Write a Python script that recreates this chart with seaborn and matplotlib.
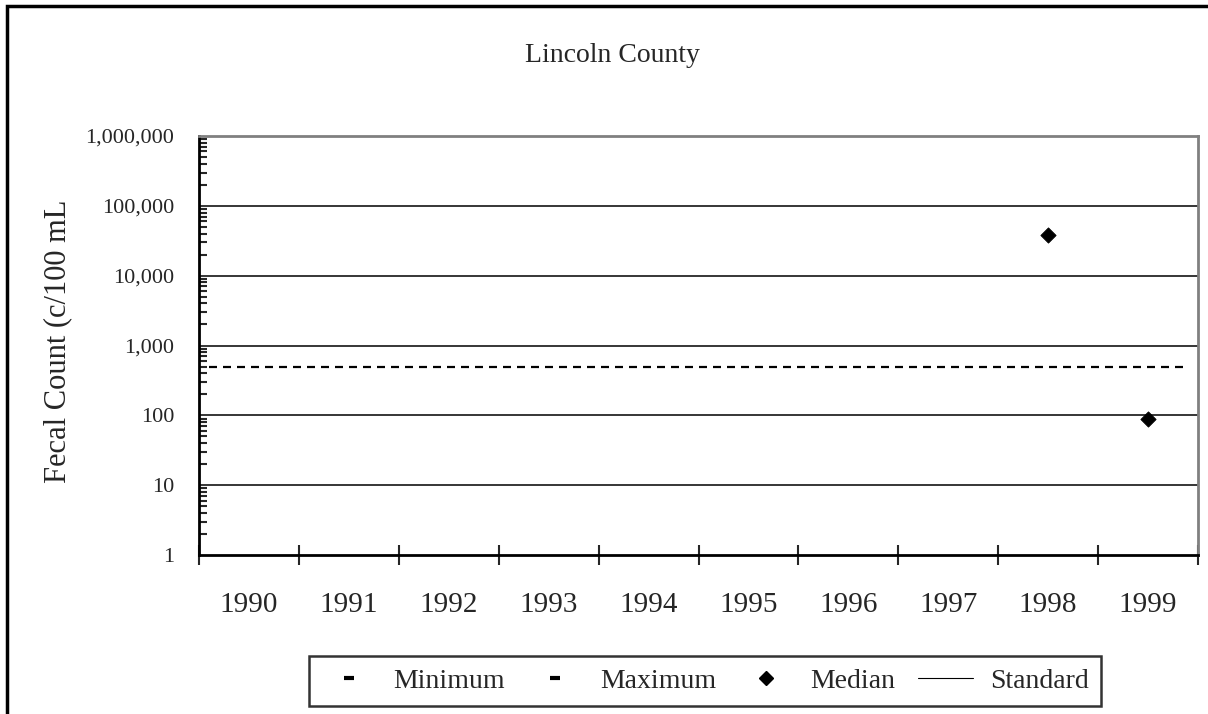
import numpy as np
import pandas as pd
import matplotlib
matplotlib.use("Agg")
import matplotlib.pyplot as plt
import matplotlib.ticker as mticker
from matplotlib.lines import Line2D
from matplotlib.patches import Rectangle
import seaborn as sns

# data
years = ["1990", "1991", "1992", "1993", "1994", "1995", "1996", "1997", "1998", "1999"]
minimum = [np.nan] * 10
maximum = [np.nan] * 10
median = [np.nan, np.nan, np.nan, np.nan, np.nan, np.nan, np.nan, np.nan, 38000, 88]
standard = 500
title = "Lincoln County"
ylabel = "Fecal Count (c/100 mL"

df = pd.DataFrame({"pos": np.arange(len(years)), "Year": years,
                   "Minimum": minimum, "Maximum": maximum, "Median": median})

sns.set_style("white")
plt.rcParams["font.family"] = ["Liberation Serif", "DejaVu Serif"]

fig = plt.figure(figsize=(12.08, 7.14), dpi=100)
ax = fig.add_axes([199 / 1208, 1 - 555 / 714, 999 / 1208, 419 / 714])

ax.set_yscale("log")
ax.set_ylim(1, 1e6)
ax.set_xlim(-0.5, len(years) - 0.5)

# gridlines at decades
for v in [10, 100, 1000, 1e4, 1e5]:
    ax.axhline(v, color="black", lw=1.1, zorder=1)

sns.scatterplot(data=df, x="pos", y="Minimum", marker="_", color="black", s=60, ax=ax, zorder=3)
sns.scatterplot(data=df, x="pos", y="Maximum", marker="_", color="black", s=60, ax=ax, zorder=3)
sns.scatterplot(data=df, x="pos", y="Median", marker="D", color="black", s=60,
                edgecolor="black", ax=ax, zorder=4)
ax.hlines(standard, -0.4, len(years) - 0.64, colors="black", linestyles=(0, (3.6, 2.7)), lw=1.6, zorder=2)

# axes look
for s in ["left", "bottom"]:
    ax.spines[s].set_color("black")
    ax.spines[s].set_linewidth(2)
for s in ["top", "right"]:
    ax.spines[s].set_color("#808080")
    ax.spines[s].set_linewidth(2)

ax.yaxis.set_major_locator(mticker.LogLocator(base=10, numticks=10))
ax.yaxis.set_minor_locator(mticker.LogLocator(base=10, subs=np.arange(2, 10), numticks=10))
ax.yaxis.set_major_formatter(mticker.FuncFormatter(lambda v, p: f"{int(round(v)):,}"))
ax.yaxis.set_minor_formatter(mticker.NullFormatter())
ax.tick_params(axis="y", which="major", direction="inout", length=12, width=1.5, labelsize=16, pad=12)
ax.tick_params(axis="y", which="minor", direction="in", length=5.5, width=1.5, left=True)

ax.set_xticks(np.arange(len(years) + 1) - 0.5)
ax.set_xticklabels([])
ax.set_xticks(np.arange(len(years)), minor=True)
ax.set_xticklabels(years, minor=True)
ax.tick_params(axis="x", which="major", direction="inout", length=15, width=1.5, bottom=True)
ax.tick_params(axis="x", which="minor", length=0, labelsize=21, pad=27)
ax.set_xlabel("")
ax.set_ylabel("")

fig.text(612 / 1208, 1 - 62 / 714, title, ha="center", va="baseline", fontsize=20)
fig.text(58 / 1208, 1 - 341 / 714, ylabel, ha="center", va="center", rotation=90, fontsize=22)

# outer chart frame
fig.add_artist(Rectangle((7 / 1208, -0.1), 1.2, 1.1 - 6 / 714, transform=fig.transFigure,
                         fill=False, edgecolor="black", lw=2.5, clip_on=False))

handles = [
    Line2D([], [], ls="none", marker="_", color="black", markersize=7, markeredgewidth=3),
    Line2D([], [], ls="none", marker="_", color="black", markersize=7, markeredgewidth=3),
    Line2D([], [], ls="none", marker="D", color="black", markersize=7),
    Line2D([], [], color="black", lw=0.8),
]
leg = fig.legend(handles, ["Minimum", "Maximum", "Median", "Standard"], ncol=4,
                 loc="center", bbox_to_anchor=(705 / 1208, 1 - 681 / 714), fontsize=20,
                 frameon=True, fancybox=False, edgecolor="black", handlelength=2.0,
                 handletextpad=0.6, columnspacing=0.8, borderpad=0.45, borderaxespad=0)
leg.get_frame().set_linewidth(1.8)

fig.savefig("out.png", dpi=100)
